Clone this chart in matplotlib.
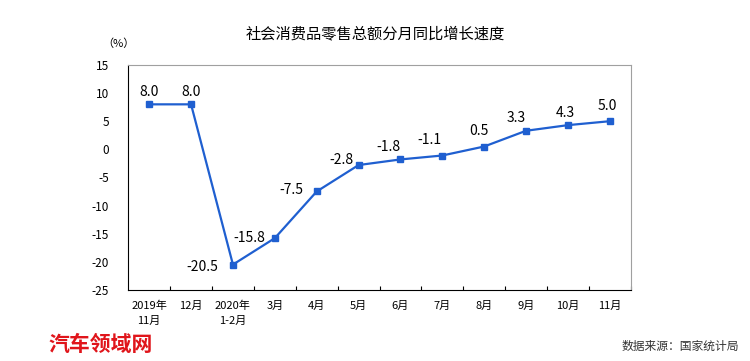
import numpy as np
from matplotlib import pyplot as plt

plt.rcParams['font.family'] = ['Noto Sans CJK SC', 'DejaVu Sans']
plt.rcParams['font.size'] = 9

# data
months = ['2019年\n11月', '12月', '2020年\n1-2月', '3月', '4月', '5月',
          '6月', '7月', '8月', '9月', '10月', '11月']
growth = [8.0, 8.0, -20.5, -15.8, -7.5, -2.8, -1.8, -1.1, 0.5, 3.3, 4.3, 5.0]
# label offsets in points (dx, dy)
offs = [(0, 9), (0, 9), (-22, -2), (-18, 0), (-18, 1), (-12, 4),
        (-9, 9), (-9, 11), (-4, 11), (-7, 9), (-2, 9), (-2, 11)]

fig = plt.figure(figsize=(7.5, 3.61), dpi=100)
ax = fig.add_axes([0.171, 0.197, 0.67, 0.623])

x = np.arange(len(months))
ax.plot(x, growth, color='#1f5fd0', lw=1.6, marker='s', ms=4,
        markerfacecolor='#1f5fd0', markeredgecolor='#1f5fd0')
for i, v in enumerate(growth):
    ax.annotate('%.1f' % v, (x[i], v), xytext=offs[i], textcoords='offset points',
                ha='center', va='center', fontsize=10)

ax.set_xlim(-0.5, len(months) - 0.5)
ax.set_ylim(-25, 15)
ax.set_yticks(np.arange(-25, 16, 5))
ax.set_yticklabels([str(t) for t in range(-25, 16, 5)], fontsize=8.5)
ax.tick_params(axis='y', length=0, pad=14)

ax.set_xticks(x + 0.5, minor=False)
ax.set_xticklabels([''] * len(x))
ax.set_xticks(x, minor=True)
ax.set_xticklabels(months, minor=True, fontsize=8, linespacing=1.6, va='top')
ax.tick_params(axis='x', which='major', direction='in', length=3, color='black')
ax.tick_params(axis='x', which='minor', length=0, pad=8)

for s in ['top', 'right']:
    ax.spines[s].set_color('#a0a0a0')
for s in ['left', 'bottom']:
    ax.spines[s].set_color('black')

fig.text(0.5, 0.905, '社会消费品零售总额分月同比增长速度', ha='center', va='center',
         fontsize=11)
fig.text(0.158, 0.878, '（%）', ha='center', va='center', fontsize=8)
fig.text(0.985, 0.04, '数据来源：国家统计局', ha='right', va='center',
         fontsize=8.5, color='#333333')
fig.text(0.065, 0.045, '汽车领域网', ha='left', va='center', fontsize=15,
         color='#e0151b', style='italic', fontweight='bold')

fig.savefig('out.png', dpi=100)
